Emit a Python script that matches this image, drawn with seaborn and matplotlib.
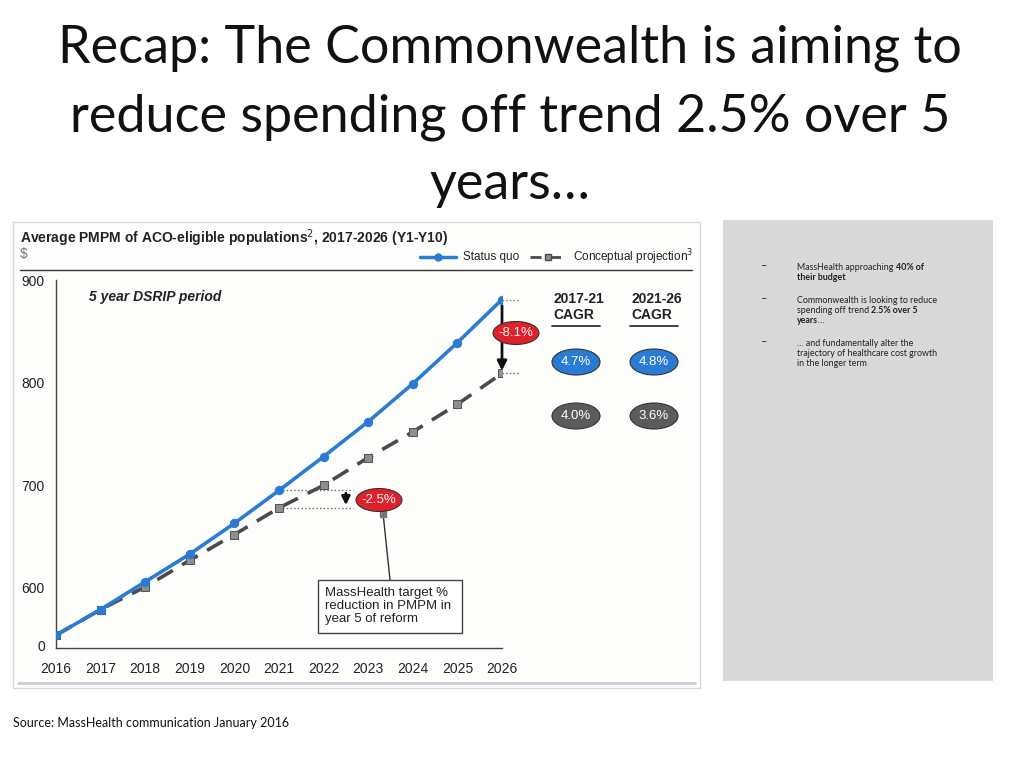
import matplotlib
matplotlib.use("Agg")
import matplotlib.pyplot as plt
import seaborn as sns
import pandas as pd
from matplotlib.patches import Ellipse, Rectangle
from matplotlib.lines import Line2D
from matplotlib.text import Annotation

# ---------------- data ----------------
years = [2016, 2017, 2018, 2019, 2020, 2021, 2022, 2023, 2024, 2025, 2026]
status_quo = [554, 579, 606, 633, 663, 695, 728, 762, 799, 839, 881]
projection = [554, 579, 601, 627, 652, 678, 700, 727, 752, 779, 809]
y_ticks = [544, 600, 700, 800, 900]
y_tick_labels = ["0", "600", "700", "800", "900"]
cagr_headers = ["2017-21\nCAGR", "2021-26\nCAGR"]
cagr_status_quo = ["4.7%", "4.8%"]
cagr_projection = ["4.0%", "3.6%"]
gap_labels = ["-8.1%", "-2.5%"]

title_lines = ["Recap: The Commonwealth is aiming to",
               "reduce spending off trend 2.5% over 5",
               "years…"]

BLUE = "#2a7bd3"
DGRAY = "#4a4a4a"
RED = "#e0202b"
ELL_GRAY = "#5b5b5b"

sns.set_style("white")
CHART_FONT = ["Liberation Sans Narrow", "Liberation Sans", "DejaVu Sans"]
SLIDE_FONT = ["Lato", "DejaVu Sans"]
plt.rcParams["font.family"] = CHART_FONT

W, H = 1024, 768
fig = plt.figure(figsize=(W / 100, H / 100), dpi=100)
fig.patch.set_facecolor("white")


def fx(x):
    return x / W


def fy(y):
    return 1 - y / H


# ---------------- slide title ----------------
for line, yc in zip(title_lines, [48, 117, 185]):
    fig.text(fx(510), fy(yc), line, ha="center", va="center",
             fontsize=37.5, family=SLIDE_FONT, color="#111111")

# ---------------- chart image frame ----------------
fig.patches.append(Rectangle((fx(13), fy(688)), fx(700) - fx(13), fy(222) - fy(688),
                             transform=fig.transFigure, facecolor="#fefefc",
                             edgecolor="#d8d8d8", lw=1.0, zorder=-2))
fig.lines.append(Line2D([fx(18), fx(695)], [fy(683), fy(683)], transform=fig.transFigure,
                        color="#c9cdd8", lw=2, zorder=-1))
fig.lines.append(Line2D([fx(20), fx(692)], [fy(270), fy(270)], transform=fig.transFigure,
                        color="#333333", lw=1.0))

fig.text(fx(20), fy(238), "Average PMPM of ACO-eligible populations$^{2}$, 2017-2026 (Y1-Y10)",
         ha="left", va="center", fontsize=10, fontweight="bold", color="#222222")
fig.text(fx(20), fy(254), "$", ha="left", va="center", fontsize=10, color="#777777")

# legend
fig.lines.append(Line2D([fx(420), fx(456)], [fy(257), fy(257)], transform=fig.transFigure,
                        color=BLUE, lw=2.5))
fig.lines.append(Line2D([fx(438)], [fy(257)], transform=fig.transFigure,
                        color=BLUE, marker="o", ms=5, lw=0))
fig.text(fx(463), fy(257), "Status quo", ha="left", va="center", fontsize=8.5, color="#222222")
fig.lines.append(Line2D([fx(530), fx(566)], [fy(257), fy(257)], transform=fig.transFigure,
                        color=DGRAY, lw=2, dashes=(4, 3)))
fig.lines.append(Line2D([fx(548)], [fy(257)], transform=fig.transFigure,
                        color="#8a8a8a", marker="s", ms=4.5, mec=DGRAY, lw=0))
fig.text(fx(573), fy(257), "Conceptual projection$^{3}$", ha="left", va="center",
         fontsize=8.5, color="#222222")

# ---------------- the line chart ----------------
ax = fig.add_axes([fx(56), fy(648), fx(502) - fx(56), fy(280) - fy(648)])
ax.set_facecolor("none")
ax.set_zorder(1)

df = pd.DataFrame({
    "year": years * 2,
    "value": status_quo + projection,
    "series": ["Status quo"] * len(years) + ["Conceptual projection"] * len(years),
})

sns.lineplot(data=df[df.series == "Status quo"], x="year", y="value", ax=ax,
             color=BLUE, lw=2.6, marker="o", markersize=6, markeredgecolor=BLUE,
             zorder=4, legend=False)
sns.lineplot(data=df[df.series == "Conceptual projection"], x="year", y="value", ax=ax,
             color=DGRAY, lw=2.6, marker="s", markersize=5.5, markerfacecolor="#8f8f8f",
             markeredgecolor="#555555", zorder=3, legend=False)
ax.lines[-1].set_dashes((5, 3))

ax.set_xlim(2016, 2026)
ax.set_ylim(541.5, 900)
ax.set_xticks(years)
ax.set_xticklabels([str(y) for y in years], fontsize=10, color="#222222")
ax.set_yticks(y_ticks)
ax.set_yticklabels(y_tick_labels, fontsize=10, color="#222222")
ax.tick_params(axis="x", direction="in", length=5, width=0.8, color="#444444", pad=10)
ax.tick_params(axis="y", length=0, pad=8)
ax.set_xlabel("")
ax.set_ylabel("")
for s in ["top", "right"]:
    ax.spines[s].set_visible(False)
for s in ["left", "bottom"]:
    ax.spines[s].set_color("#444444")
    ax.spines[s].set_linewidth(1.0)
ax.grid(False)

# gap markers (2026)
ax.plot([2026, 2026.4], [status_quo[-1], status_quo[-1]], ls=":", color="#666666", lw=1,
        clip_on=False)
ax.plot([2026, 2026.4], [projection[-1], projection[-1]], ls=":", color="#666666", lw=1,
        clip_on=False)
ax.annotate("", xy=(2026, projection[-1]), xytext=(2026, status_quo[-1] - 3),
            arrowprops=dict(arrowstyle="-|>", color="#111111", lw=2, mutation_scale=14),
            annotation_clip=False)

# gap markers (2021)
ax.plot([2021, 2022.65], [status_quo[5], status_quo[5]], ls=":", color="#666666", lw=1)
ax.plot([2021, 2022.65], [projection[5], projection[5]], ls=":", color="#666666", lw=1)
ax.annotate("", xy=(2022.5, projection[5]), xytext=(2022.5, status_quo[5]),
            arrowprops=dict(arrowstyle="-|>", color="#111111", lw=2, mutation_scale=12))

ax.text(2016.75, 883, "5 year DSRIP period", fontsize=10, fontweight="bold",
        fontstyle="italic", color="#222222", va="center", ha="left")


# ---------------- ellipses ----------------
def ellipse(xc, yc, w, h, color, label, fs=9.5):
    fig.patches.append(Ellipse((fx(xc), fy(yc)), w / W, h / H, transform=fig.transFigure,
                               facecolor=color, edgecolor="#333333", lw=0.8, zorder=5))
    fig.text(fx(xc), fy(yc), label, ha="center", va="center", fontsize=fs,
             color="white", zorder=6)


ellipse(516, 333, 46, 23, RED, gap_labels[0])
ellipse(379, 500, 46, 23, RED, gap_labels[1])

for xc, hdr, sq, pr in zip([576, 654], cagr_headers, cagr_status_quo, cagr_projection):
    fig.text(fx(xc - 23), fy(307), hdr, ha="left", va="center", fontsize=10,
             fontweight="bold", color="#222222", linespacing=1.1)
    fig.lines.append(Line2D([fx(xc - 24), fx(xc + 24)], [fy(326), fy(326)],
                            transform=fig.transFigure, color="#222222", lw=1.2))
    ellipse(xc, 362, 48, 26, BLUE, sq)
    ellipse(xc, 416, 48, 26, ELL_GRAY, pr)

# ---------------- callout ----------------
fig.lines.append(Line2D([fx(383), fx(390)], [fy(513), fy(580)], transform=fig.transFigure,
                        color="#333333", lw=1.0, zorder=4))
fig.lines.append(Line2D([fx(383)], [fy(514)], transform=fig.transFigure, color="#777777",
                        marker="s", ms=4, lw=0, zorder=4))
fig.patches.append(Rectangle((fx(318), fy(633)), (462 - 318) / W, (633 - 580) / H,
                             transform=fig.transFigure, facecolor="white",
                             edgecolor="#444444", lw=1.0, zorder=5))
fig.text(fx(325), fy(606), "MassHealth target %\nreduction in PMPM in\nyear 5 of reform",
         ha="left", va="center", fontsize=9.5, color="#222222", linespacing=1.15, zorder=6)

# ---------------- right gray panel ----------------
fig.patches.append(Rectangle((fx(723), fy(681)), (993 - 723) / W, (681 - 220) / H,
                             transform=fig.transFigure, facecolor="#d9d9d9",
                             edgecolor="none", zorder=-2))

PF = SLIDE_FONT
pfs = 6.4


def rich(x, y, parts):
    last = None
    for txt, bold in parts:
        w = "bold" if bold else "normal"
        if last is None:
            last = fig.text(fx(x), fy(y), txt, ha="left", va="baseline", fontsize=pfs,
                            fontweight=w, family=PF, color="#222222")
        else:
            last = fig.add_artist(Annotation(
                txt, xy=(1, 0), xycoords=last, ha="left", va="bottom",
                fontsize=pfs, fontweight=w, family=PF, color="#222222"))


bullets = [
    (270, [[("MassHealth approaching ", False), ("40% of", True)],
           [("their budget", True)]]),
    (303, [[("Commonwealth is looking to reduce", False)],
           [("spending off trend ", False), ("2.5% over 5", True)],
           [("years", True), ("…", False)]]),
    (346, [[("… and fundamentally alter the", False)],
           [("trajectory of healthcare cost growth", False)],
           [("in the longer term", False)]]),
]
for ytop, lines in bullets:
    fig.text(fx(761), fy(ytop - 1), "–", ha="left", va="baseline", fontsize=8,
             family=PF, color="#222222")
    for i, parts in enumerate(lines):
        rich(797, ytop + i * 10, parts)

# ---------------- source ----------------
fig.text(fx(13), fy(723), "Source: MassHealth communication January 2016", ha="left",
         va="center", fontsize=9, family=SLIDE_FONT, color="#111111")

fig.savefig("out.png", dpi=100)
